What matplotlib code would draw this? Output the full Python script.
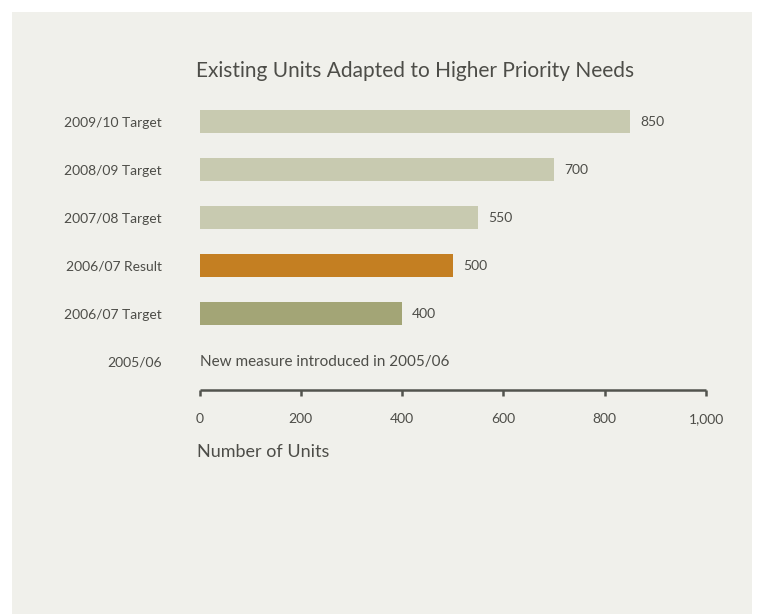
import matplotlib.pyplot as plt
from matplotlib.patches import Rectangle

plt.rcParams["font.family"] = ["Lato", "DejaVu Sans"]

# rows from bottom (2005/06) to top (2009/10)
categories = ["2005/06", "2006/07 Target", "2006/07 Result",
              "2007/08 Target", "2008/09 Target", "2009/10 Target"]
units = [None, 400, 500, 550, 700, 850]
bar_colors = [None, "#a3a576", "#c47f22", "#c8cab0", "#c8cab0", "#c8cab0"]
note_2005 = "New measure introduced in 2005/06"
x_ticks = [0, 200, 400, 600, 800, 1000]
x_tick_labels = ["0", "200", "400", "600", "800", "1,000"]

text_col = "#4d4d48"
axis_col = "#52544e"
panel_col = "#f0f0eb"

W, H = 757, 614
fig = plt.figure(figsize=(W / 100, H / 100), dpi=100)
fig.patch.set_facecolor("white")
fig.patches.append(Rectangle((12 / W, 0), 740 / W, (H - 12) / H,
                             transform=fig.transFigure, facecolor=panel_col,
                             edgecolor="none", zorder=-1))

# axes: x 0 -> px 199, x 1000 -> px 706; axis line at px 389.5
ax = fig.add_axes([199.5 / W, (H - 389.5) / H, 506.5 / W, 291.5 / H])
ax.set_facecolor("none")

for i, (cat, val, col) in enumerate(zip(categories, units, bar_colors)):
    if val is None:
        continue
    ax.barh(i, val, height=0.48, color=col, edgecolor="none")
    ax.text(val + 20, i, str(val), va="center", ha="left",
            fontsize=10, color=text_col)

ax.text(0, 0, note_2005, va="center", ha="left", fontsize=11, color=text_col)

ax.set_xlim(0, 1000)
ax.set_ylim(-0.583, 5.5)
ax.set_yticks(range(len(categories)))
ax.set_yticklabels(categories, fontsize=10, color=text_col)
ax.tick_params(axis="y", length=0, pad=27)

ax.set_xticks(x_ticks)
ax.set_xticklabels(x_tick_labels, fontsize=10, color=text_col)
ax.tick_params(axis="x", direction="out", length=4.5, width=1.8,
               color=axis_col, pad=12.5)

for s in ["top", "right", "left"]:
    ax.spines[s].set_visible(False)
ax.spines["bottom"].set_color(axis_col)
ax.spines["bottom"].set_linewidth(1.8)
ax.spines["bottom"].set_capstyle("butt")

fig.text(415 / W, 1 - 71 / H, "Existing Units Adapted to Higher Priority Needs",
         ha="center", va="center", fontsize=15, color=text_col)
fig.text(197 / W, 1 - 452 / H, "Number of Units",
         ha="left", va="center", fontsize=13, color=text_col)

fig.savefig("out.png", dpi=100, facecolor=fig.get_facecolor())
